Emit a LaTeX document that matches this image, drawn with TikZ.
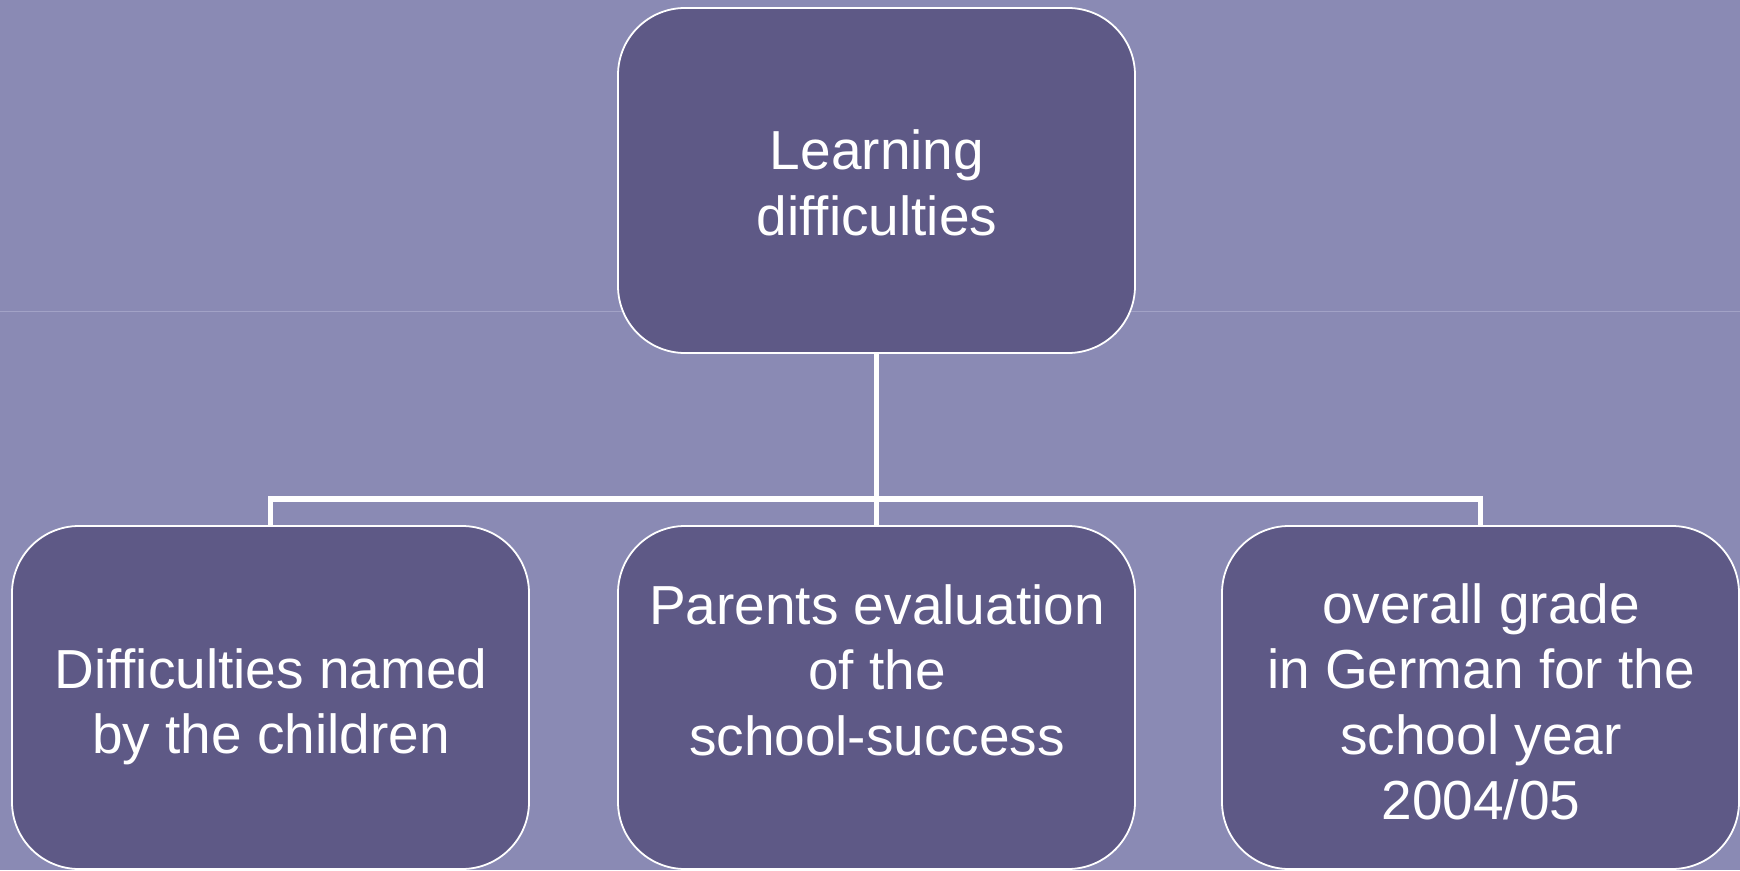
\documentclass[tikz,border=0pt]{standalone}
\usepackage{fontspec}
\setmainfont{Liberation Sans}
\definecolor{bgcol}{HTML}{8A8AB4}
\definecolor{boxcol}{HTML}{5E5986}
\definecolor{seamcol}{HTML}{A2A2C6}
\tikzset{
  box/.style={draw=white, line width=1.8pt, fill=boxcol, rounded corners=67pt,
    rectangle, inner sep=0pt, minimum width=517pt, minimum height=345pt},
  lbl/.style={align=center, text=white, inner sep=0pt,
    font=\fontsize{55}{65.5}\selectfont},
  link/.style={draw=white, line width=5.5pt, line join=miter}
}
\begin{document}
\begin{tikzpicture}[x=1pt,y=-1pt]
\useasboundingbox (0,0) rectangle (1740,870);
\fill[bgcol] (0,0) rectangle (1740,870);
\draw[seamcol, line width=0.8pt] (0,311) -- (1740,311);
\node[box] (top) at (876.5,180.5) {};
\node[box, minimum height=343pt] (left) at (270.5,697.5) {};
\node[box, minimum height=343pt] (mid) at (876.5,697.5) {};
\node[box, minimum height=343pt] (right) at (1480.5,697.5) {};
\node[lbl] (toplbl) at (877,183) {Learning\\difficulties};
\node[lbl] (leftlbl) at (271,707) {Difficulties named\\by the children};
\node[lbl] (midlbl) at (877,670) {Parents evaluation\\of the\ \\school-success};
\node[lbl] (rightlbl) at (1481,702) {overall grade\\in German for the\\school year\ \\2004/05};
\coordinate (bus) at (0,499);
\draw[link] (top.south) -- (mid.north);
\draw[link] (left.north) |- (right.north |- bus) -- (right.north);
\end{tikzpicture}
\end{document}
